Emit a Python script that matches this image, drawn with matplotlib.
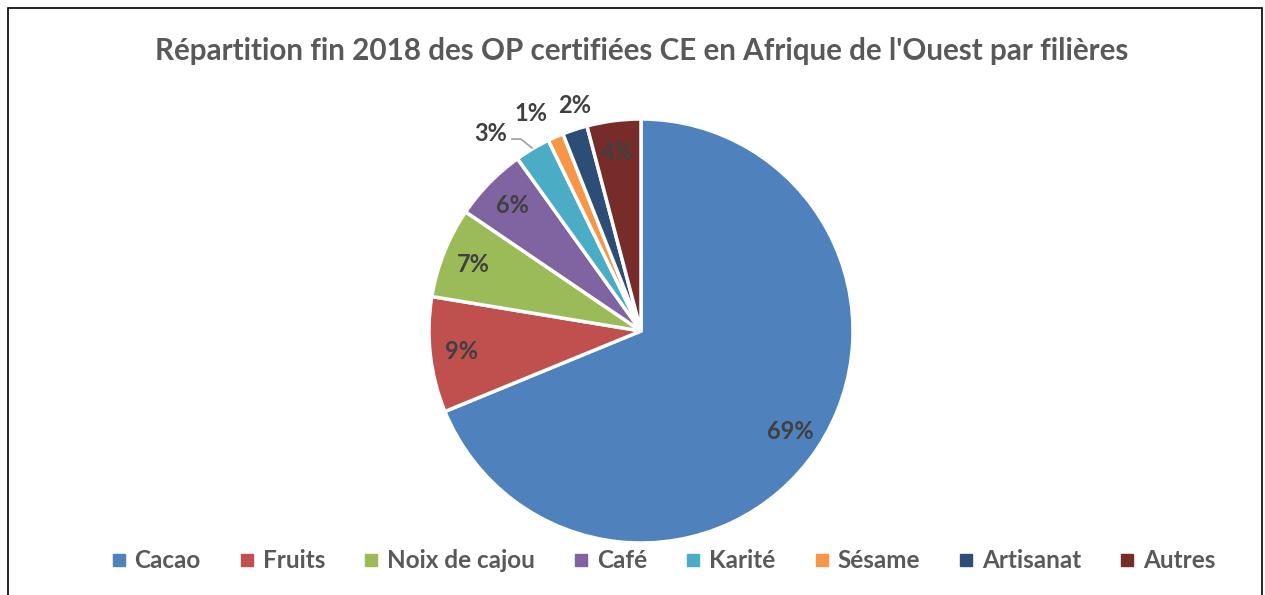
import numpy as np
import matplotlib.pyplot as plt
from matplotlib.lines import Line2D
from matplotlib.patches import Rectangle

# Data
categories = ['Cacao', 'Fruits', 'Noix de cajou', 'Café', 'Karité', 'Sésame', 'Artisanat', 'Autres']
values = [68.8, 8.8, 6.9, 5.6, 2.7, 1.2, 1.9, 4.1]
labels = ['69%', '9%', '7%', '6%', '3%', '1%', '2%', '4%']
colors = ['#4F81BD', '#C0504D', '#9BBB59', '#8064A2', '#4BACC6', '#F79646', '#2C4D75', '#772C2A']
title = "Répartition fin 2018 des OP certifiées CE en Afrique de l'Ouest par filières"

plt.rcParams['font.family'] = ['Lato', 'DejaVu Sans']

W, H = 1265, 595
fig = plt.figure(figsize=(W / 100, H / 100), dpi=100)

# chart frame (bottom edge cut off)
fig.patches.append(Rectangle((8 / W, -0.05), (1262 - 8) / W, 1.05 - 8 / H,
                             transform=fig.transFigure, fill=False,
                             edgecolor='black', linewidth=1.2))

fig.text(642 / W, 1 - 51 / H, title, ha='center', va='center',
         fontsize=21.3, fontweight='bold', color='#595959')

# pie axes: centre (641, 331) px, radius 212 px
cx, cy, r = 641, 331, 212
ax = fig.add_axes([(cx - r) / W, (H - cy - r) / H, 2 * r / W, 2 * r / H])
wedges, _ = ax.pie(values, colors=colors, startangle=90, counterclock=False, radius=1,
                   wedgeprops=dict(edgecolor='white', linewidth=2.5))
ax.set_xlim(-1, 1)
ax.set_ylim(-1, 1)
ax.set_aspect('equal')
ax.axis('off')

# data labels
outside = {4: (1.17, 6.5), 5: (1.15, 3.0), 6: (1.11, -1.8)}
for i, w in enumerate(wedges):
    ang = (w.theta1 + w.theta2) / 2
    if i in outside:
        rr, da = outside[i]
    else:
        rr, da = 0.85, 0
    a = np.deg2rad(ang + da)
    ax.text(rr * np.cos(a), rr * np.sin(a), labels[i], ha='center', va='center',
            fontsize=17, fontweight='bold', color='#404040', clip_on=False)

# leader line for the 3% label
a_mid = np.deg2rad((wedges[4].theta1 + wedges[4].theta2) / 2)
x0, y0 = 1.005 * np.cos(a_mid), 1.005 * np.sin(a_mid)
ax.plot([x0, x0 - 0.052, x0 - 0.094], [y0, y0 + 0.042, y0 + 0.042],
        color='#A6A6A6', linewidth=1.3, clip_on=False)

handles = [Line2D([0], [0], marker='s', linestyle='none', markersize=8,
                  markerfacecolor=c, markeredgecolor=c) for c in colors]
fig.legend(handles, categories, loc='center', bbox_to_anchor=(661 / W, 1 - 561 / H),
           ncol=8, frameon=False, handletextpad=0.15, columnspacing=1.4,
           handlelength=1.0, prop=dict(size=17.5, weight='bold'), labelcolor='#595959')

fig.savefig('out.png', dpi=100)
